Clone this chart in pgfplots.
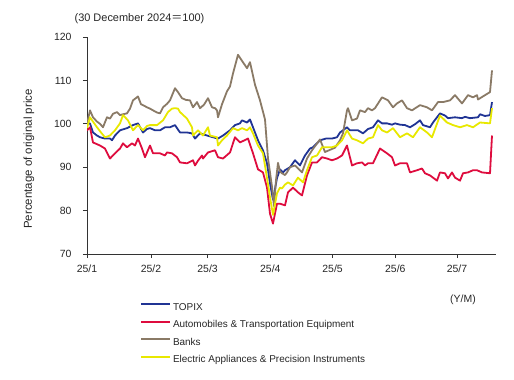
\documentclass[border=0pt]{standalone}
\usepackage{fontspec}
\setmainfont{Liberation Sans}
\newfontfamily\cjk{Noto Sans CJK JP}
\usepackage{pgfplots}
\pgfplotsset{compat=1.18}
\definecolor{ctopix}{RGB}{32,52,148}
\definecolor{cauto}{RGB}{222,12,62}
\definecolor{cbank}{RGB}{138,122,102}
\definecolor{celec}{RGB}{232,232,0}
\tikzset{serie/.style={draw=#1, line width=1.8bp, line join=round}}
\begin{document}
\begin{tikzpicture}
\path (0bp,0bp) rectangle (514bp,380bp);
\begin{axis}[
  at={(87bp,126bp)}, anchor=south west,
  scale only axis, width=409bp, height=217bp,
  xmin=0, xmax=409, ymin=70, ymax=120,
  axis x line=bottom, axis y line=left,
  axis line style={-, black!80, line width=0.8bp},
  tick style={black!80, line width=0.8bp},
  tick align=outside, major tick length=4bp,
  xtick={0,64,120.6,183.3,245.6,308.3,370},
  xticklabels={25/1,25/2,25/3,25/4,25/5,25/6,25/7},
  ytick={70,80,90,100,110,120},
  /pgf/number format/assume math mode=true,
  ticklabel style={font=\fontsize{10.5}{12}\selectfont, text=black!85},
  yticklabel style={xshift=-8bp},
  xticklabel style={yshift=-3bp},
  legend style={at={(0.1296,-0.205)}, anchor=north west, draw=none, fill=none,
    inner sep=0pt, outer sep=0pt, row sep=0pt,
    font=\fontsize{10}{12}\selectfont,
    nodes={inner xsep=2bp, inner ysep=4bp, text height=7.6bp, text depth=2bp, text=black!85}},
  legend cell align=left,
  legend image code/.code={\draw[#1, line width=2bp] (0bp,3bp) -- (29bp,3bp);},
]
\addplot[serie=ctopix, mark=none] coordinates {(0,100)(3,100.1)(6,98.0)(10,97.3)(13,96.9)(18,96.6)(23,96.6)(25,96.2)(28,97.3)(33,98.5)(40,99.0)(46,99.7)(51,100.1)(56,98.0)(60,98.8)(63,99.0)(68,98.5)(73,98.5)(78,99.2)(83,99.2)(88,99.7)(93,98.0)(100,98.0)(105,97.8)(108,96.6)(113,97.8)(120,97.3)(126,96.9)(131,96.6)(136,97.3)(143,98.5)(148,99.7)(153,100.1)(155,100.8)(160,100.3)(163,101.0)(166,99.2)(171,96.2)(176,93.9)(180,90.9)(183,86.3)(186,82.5)(190,87.5)(193,89.5)(196,88.8)(198,89.3)(203,90.0)(208,91.6)(213,90.4)(218,92.7)(223,94.3)(226,94.6)(233,96.2)(239,96.6)(245,96.6)(250,96.9)(253,98.0)(256,98.5)(260,99.2)(263,98.5)(271,98.5)(276,97.8)(281,98.8)(286,99.2)(291,100.8)(295,100.1)(300,100.1)(305,99.8)(308,100.1)(313,99.8)(318,99.7)(323,99.2)(328,99.9)(333,100.8)(336,99.7)(343,99.2)(346,100.3)(353,102.4)(358,101.9)(361,101.3)(368,101.5)(375,101.3)(378,101.6)(383,101.3)(391,101.5)(393,102.2)(398,101.8)(403,102.0)(405,105.0)};
\addlegendentry{TOPIX}
\addplot[serie=cauto, mark=none] coordinates {(0,98.5)(3,99.2)(6,95.7)(13,95.0)(18,94.3)(23,92.0)(28,93.2)(33,94.3)(36,95.5)(40,94.6)(45,95.5)(48,95.0)(51,96.6)(55,94.3)(58,92.3)(63,95.0)(66,93.2)(73,93.2)(78,92.7)(80,93.4)(85,93.2)(90,92.3)(93,91.1)(100,90.9)(106,91.6)(108,90.4)(111,91.5)(115,92.7)(116,92.0)(121,93.4)(128,93.9)(131,92.3)(136,92.0)(143,93.4)(148,96.9)(153,95.7)(161,96.6)(166,93.2)(171,89.5)(176,88.8)(180,85.3)(183,79.3)(186,77.0)(190,81.6)(193,81.6)(198,81.2)(201,84.2)(206,85.3)(211,84.2)(215,83.5)(220,88.1)(225,91.1)(230,91.1)(235,92.3)(240,92.0)(245,91.6)(250,92.0)(255,92.7)(260,95.0)(265,90.4)(270,90.9)(275,91.1)(278,90.4)(281,90.9)(286,90.9)(293,94.3)(300,93.2)(305,92.3)(308,90.4)(313,90.9)(320,90.9)(323,88.8)(330,89.3)(335,89.7)(338,88.6)(343,88.1)(350,86.9)(353,88.8)(358,88.6)(361,87.4)(365,88.8)(368,87.6)(373,86.9)(376,88.6)(381,88.8)(386,89.3)(390,89.3)(395,88.8)(403,88.6)(405,97.3)};
\addlegendentry{Automobiles \& Transportation Equipment}
\addplot[serie=cbank, mark=none] coordinates {(0,100)(3,103.1)(6,101.5)(10,100.5)(13,100.0)(16,99.2)(20,101.5)(23,101.2)(26,102.3)(30,102.7)(33,102.0)(36,102.2)(40,102.4)(43,103.5)(46,105.4)(51,106.3)(54,104.5)(56,104.3)(60,103.8)(63,103.5)(66,103.1)(70,102.6)(73,102.4)(76,103.8)(80,104.6)(83,105.4)(88,108.2)(91,107.3)(95,105.9)(99,105.5)(103,105.4)(106,103.8)(110,105.0)(113,103.6)(117,104.4)(121,105.9)(125,103.8)(128,103.6)(130,103.1)(131,101.5)(135,104.5)(140,107.5)(143,108.6)(146,111.6)(151,115.9)(155,114.5)(158,113.5)(160,112.8)(163,114.2)(168,109.0)(173,105.4)(178,101.0)(181,92.0)(185,85.5)(187,81.0)(189,87.0)(191,91.0)(193,89.0)(195,88.6)(198,88.2)(200,88.8)(203,90.0)(208,90.4)(215,88.8)(220,92.0)(225,93.9)(233,96.4)(238,93.5)(243,94.0)(248,94.5)(253,96.2)(256,97.8)(260,103.1)(261,103.6)(265,100.8)(270,101.2)(273,103.1)(278,102.7)(281,103.6)(285,103.1)(288,103.6)(295,106.1)(301,105.4)(306,103.8)(310,104.7)(315,105.4)(320,103.6)(325,103.1)(333,104.3)(340,103.8)(345,103.1)(351,105.0)(356,105.0)(363,105.4)(368,106.6)(375,104.7)(381,106.6)(386,106.1)(390,106.6)(391,105.6)(398,106.6)(403,107.3)(405,112.3)};
\addlegendentry{Banks}
\addplot[serie=celec, mark=none] coordinates {(0,99.0)(3,101.5)(6,100.5)(10,99.2)(14,98.0)(18,96.9)(23,97.3)(28,98.5)(33,100.1)(36,102.0)(41,100.8)(46,98.5)(51,99.7)(56,98.5)(60,99.5)(63,99.7)(70,99.7)(76,100.8)(81,102.7)(85,103.5)(88,103.6)(91,103.5)(93,102.7)(100,101.2)(105,99.2)(106,97.3)(111,98.5)(116,97.3)(121,99.2)(123,97.3)(130,96.9)(131,95.0)(135,96.2)(140,97.3)(146,99.0)(151,98.5)(155,99.0)(160,98.5)(163,99.2)(166,97.8)(171,95.0)(176,93.2)(180,87.5)(183,83.1)(186,79.0)(190,84.0)(193,85.3)(195,85.1)(198,86.0)(201,86.5)(206,85.8)(211,87.6)(216,86.5)(220,89.3)(225,92.3)(230,92.7)(235,94.6)(240,94.6)(245,94.6)(250,95.0)(255,96.2)(260,98.5)(265,96.6)(270,96.2)(276,95.5)(281,96.6)(286,96.9)(291,99.7)(295,98.5)(300,98.0)(306,99.0)(313,96.9)(320,97.8)(326,96.9)(333,99.2)(340,98.0)(345,96.9)(353,101.9)(360,100.3)(366,99.7)(373,99.2)(380,99.7)(386,99.2)(393,100.3)(403,100.1)(405,103.6)};
\addlegendentry{Electric Appliances \& Precision Instruments}
\end{axis}
\node[font=\fontsize{11}{12}\selectfont, text=black!85] at (139.5bp,361bp) {(30 December 2024{\cjk ＝}100)};
\node[rotate=90, font=\fontsize{11.5}{12}\selectfont, text=black!85] at (29bp,221bp) {Percentage of original price};
\node[font=\fontsize{10.5}{12}\selectfont, text=black!85] at (463bp,80bp) {(Y/M)};
\end{tikzpicture}
\end{document}
